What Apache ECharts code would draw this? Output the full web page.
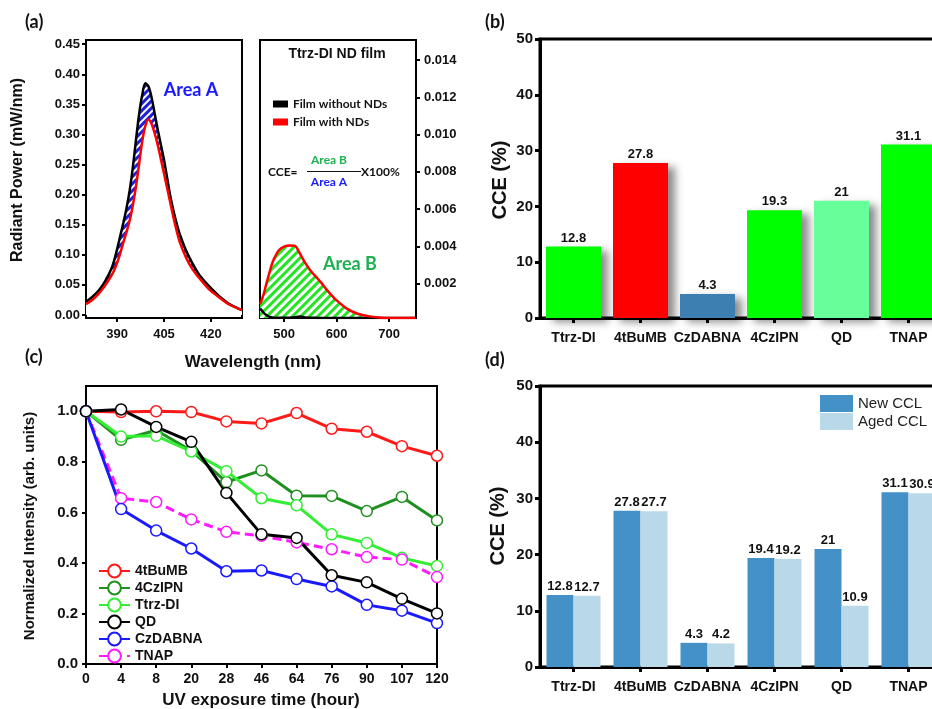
<!DOCTYPE html>
<html>
<head>
<meta charset="utf-8">
<script src="https://cdn.jsdelivr.net/npm/echarts@6/dist/echarts.min.js"></script>
<style>
html,body{margin:0;padding:0;background:#fff;}
#chart{width:932px;height:709px;}
</style>
</head>
<body>
<div id="chart"></div>
<script>
// ---------- Panel (a) left: excitation spectra ----------
const waveA = [380,382,384,386,388,389,390,391,392,393,394,395,396,397,398,399,400,401,402,403,404,405,406,407,408,409,410,412,414,416,418,420,423,426,430];
const blueNoNDs = [0.022,0.030,0.040,0.055,0.075,0.090,0.110,0.132,0.154,0.178,0.207,0.245,0.290,0.333,0.365,0.385,0.380,0.362,0.335,0.308,0.283,0.258,0.228,0.198,0.174,0.153,0.135,0.108,0.087,0.069,0.056,0.045,0.030,0.018,0.008];
const blueWithNDs = [0.018,0.025,0.035,0.048,0.064,0.074,0.087,0.103,0.121,0.138,0.157,0.182,0.213,0.250,0.288,0.314,0.325,0.318,0.302,0.282,0.259,0.235,0.211,0.187,0.163,0.141,0.122,0.096,0.077,0.063,0.051,0.040,0.028,0.017,0.008];
// ---------- Panel (a) right: emission spectra ----------
const waveB = [454,458,462,466,470,475,480,490,500,510,520,530,540,550,560,570,580,590,600,620,640,660,680,700,750];
const greenNoNDs = [0.00068,0.00055,0.00042,0.00033,0.00026,0.00021,0.00019,0.00018,0.00018,0.00019,0.00021,0.00025,0.00020,0.00018,0.00018,0.00017,0.00017,0.00017,0.00017,0.00017,0.00017,0.00017,0.00017,0.00017,0.00017];
const greenWithNDs = [0.00090,0.00120,0.00155,0.00200,0.00240,0.00290,0.00330,0.00380,0.00400,0.00405,0.00404,0.00362,0.00312,0.00272,0.00240,0.00208,0.00172,0.00140,0.00111,0.00066,0.00040,0.00027,0.00020,0.00017,0.00017];
const tickA_x = [390,405,420];
const tickA_y = [0,0.05,0.10,0.15,0.20,0.25,0.30,0.35,0.40,0.45];
const tickB_x = [500,600,700];
const tickB_y = [0.002,0.004,0.006,0.008,0.010,0.012,0.014];
// ---------- Panel (b) ----------
const materials = ['Ttrz-DI','4tBuMB','CzDABNA','4CzIPN','QD','TNAP'];
const cceValues = [12.8,27.8,4.3,19.3,21,31.1];
const cceColors = ['#00ff00','#ff0000','#3d7fb0','#00ff00','#66ff99','#00ff00'];
// ---------- Panel (c) ----------
const hours = ['0','4','8','20','28','46','64','76','90','107','120'];
const s4tBuMB = [1.0,0.997,1.0,0.997,0.96,0.952,0.993,0.931,0.919,0.862,0.824];
const s4CzIPN = [1.0,0.887,0.925,0.844,0.72,0.766,0.666,0.665,0.605,0.661,0.568];
const sTtrzDI = [1.0,0.90,0.903,0.841,0.763,0.656,0.628,0.513,0.479,0.42,0.388];
const sQD = [1.0,1.007,0.938,0.879,0.677,0.513,0.499,0.351,0.323,0.258,0.20];
const sCzDABNA = [1.0,0.613,0.528,0.457,0.367,0.37,0.336,0.307,0.234,0.211,0.162];
const sTNAP = [1.0,0.656,0.641,0.572,0.523,0.507,0.481,0.454,0.423,0.413,0.344];
const tickC_y = [0,0.2,0.4,0.6,0.8,1.0];
// ---------- Panel (d) ----------
const newCCL = [12.8,27.8,4.3,19.4,21,31.1];
const agedCCL = [12.7,27.7,4.2,19.2,10.9,30.9];

const AX = 'Liberation Sans, Arial, sans-serif';
const CAL = 'Lato, Open Sans, sans-serif';

function pairs(xs, ys){ return xs.map((x,i)=>[x, ys[i]]); }

function axLine(w){ return {show:true, onZero:false, lineStyle:{color:'#000', width:w}}; }
function axTick(w,len,custom){ const t = {show:true, inside:false, length:len, lineStyle:{color:'#000', width:w}}; if(custom) t.customValues = custom; return t; }
function axLabel(size,margin,extra){ return Object.assign({color:'#111', fontFamily:AX, fontWeight:'bold', fontSize:size, margin:margin}, extra||{}); }

const decalA = {symbol:'rect', symbolSize:1, color:'#ffffff', dashArrayX:[1,0], dashArrayY:[2,2.5], rotation:-Math.PI/4};
const decalB = {symbol:'rect', symbolSize:1, color:'#ffffff', dashArrayX:[1,0], dashArrayY:[3,2.5], rotation:-Math.PI/4};

const lineSym = (name, data, color, dashed) => ({
  name, type:'line', xAxisIndex:3, yAxisIndex:3, data,
  symbol:'circle', symbolSize:11, showSymbol:true,
  itemStyle:{color:'#ffffff', borderColor:color, borderWidth:1.5},
  lineStyle:{color:color, width:3, type: dashed ? [9,5] : 'solid'},
  color: color
});

const option = {
  animation:false,
  backgroundColor:'#ffffff',
  grid:[
    {left:86, top:40, width:156, height:278, show:true, borderColor:'#000', borderWidth:2, backgroundColor:'transparent'},
    {left:260, top:40, width:156, height:278, show:true, borderColor:'#000', borderWidth:2, backgroundColor:'transparent'},
    {left:540, top:39, width:402, height:279, show:true, borderColor:'#000', borderWidth:3, backgroundColor:'transparent', outerBoundsMode:'none'},
    {left:86, top:386, width:351, height:278, show:true, borderColor:'#000', borderWidth:2, backgroundColor:'transparent'},
    {left:540, top:386, width:402, height:281, show:true, borderColor:'#000', borderWidth:3, backgroundColor:'transparent', outerBoundsMode:'none'}
  ],
  xAxis:[
    {gridIndex:0, type:'value', min:380, max:430, splitLine:{show:false}, axisLine:axLine(2), axisTick:axTick(2,4,tickA_x), axisLabel:axLabel(13,10,{customValues:tickA_x})},
    {gridIndex:1, type:'value', min:454, max:751, splitLine:{show:false}, axisLine:axLine(2), axisTick:axTick(2,4,tickB_x), axisLabel:axLabel(13,10,{customValues:tickB_x})},
    {gridIndex:2, type:'category', data:materials, axisLine:axLine(3), axisTick:Object.assign(axTick(3,5),{alignWithLabel:true}), axisLabel:axLabel(14,13,{interval:0})},
    {gridIndex:3, type:'category', data:hours, boundaryGap:false, axisLine:axLine(2), axisTick:axTick(2,4), axisLabel:axLabel(14,8,{interval:0})},
    {gridIndex:4, type:'category', data:materials, axisLine:axLine(3), axisTick:Object.assign(axTick(3,5),{alignWithLabel:true}), axisLabel:axLabel(14,13,{interval:0})}
  ],
  yAxis:[
    {gridIndex:0, type:'value', min:-0.005, max:0.457, splitLine:{show:false}, axisLine:axLine(2), axisTick:axTick(2,4,tickA_y), axisLabel:axLabel(13,6,{customValues:tickA_y, formatter:v=>v.toFixed(2)})},
    {gridIndex:1, type:'value', position:'right', min:0.00017, max:0.01507, splitLine:{show:false}, axisLine:axLine(2), axisTick:axTick(2,4,tickB_y), axisLabel:axLabel(13,8,{customValues:tickB_y, formatter:v=>v.toFixed(3)})},
    {gridIndex:2, type:'value', min:0, max:50, interval:10, splitLine:{show:false}, axisLine:axLine(3), axisTick:axTick(3,5), axisLabel:axLabel(15,7)},
    {gridIndex:3, type:'value', min:0, max:1.1, splitLine:{show:false}, axisLine:axLine(2), axisTick:axTick(2,4,tickC_y), axisLabel:axLabel(15,8,{customValues:tickC_y, formatter:v=>v.toFixed(1)})},
    {gridIndex:4, type:'value', min:0, max:50, interval:10, splitLine:{show:false}, axisLine:axLine(3), axisTick:axTick(3,5), axisLabel:axLabel(15,7)}
  ],
  legend:[
    {data:['Film without NDs','Film with NDs'], orient:'vertical', left:268, top:92, icon:'rect', itemWidth:15, itemHeight:7, itemGap:4,
     textStyle:{fontFamily:CAL, fontWeight:'bold', fontSize:12, color:'#111', lineHeight:14}},
    {data:['4tBuMB','4CzIPN','Ttrz-DI','QD','CzDABNA','TNAP'], orient:'vertical', left:93, top:558, itemWidth:31, itemHeight:16, itemGap:1,
     textStyle:{fontFamily:AX, fontWeight:'bold', fontSize:14, color:'#111', lineHeight:16}},
    {data:['New CCL','Aged CCL'], orient:'vertical', left:815, top:390, icon:'rect', itemWidth:33, itemHeight:17, itemGap:1,
     textStyle:{fontFamily:AX, fontSize:15, color:'#222', lineHeight:17}}
  ],
  series:[
    // (a) left: hatched area between curves
    {name:'_areaA', type:'line', xAxisIndex:0, yAxisIndex:0, data:pairs(waveA, blueNoNDs), showSymbol:false, symbol:'none', smooth:0.3,
     lineStyle:{width:0, decal:decalA}, itemStyle:{color:'#1f1fd8', decal:decalA}, areaStyle:{color:'#1f1fd8', opacity:1}, color:'#1f1fd8', z:1},
    {name:'_coverA', type:'line', xAxisIndex:0, yAxisIndex:0, data:pairs(waveA, blueWithNDs), showSymbol:false, symbol:'none', smooth:0.3,
     lineStyle:{width:0}, areaStyle:{color:'#ffffff', opacity:1}, color:'#ffffff', z:2},
    {name:'Film without NDs', type:'line', xAxisIndex:0, yAxisIndex:0, data:pairs(waveA, blueNoNDs), showSymbol:false, symbol:'none', smooth:0.3,
     lineStyle:{width:2.5, color:'#000'}, color:'#000', z:3},
    {name:'Film with NDs', type:'line', xAxisIndex:0, yAxisIndex:0, data:pairs(waveA, blueWithNDs), showSymbol:false, symbol:'none', smooth:0.3,
     lineStyle:{width:2.5, color:'#ff0000'}, color:'#ff0000', z:4},
    // (a) right
    {name:'_areaB', type:'line', xAxisIndex:1, yAxisIndex:1, data:pairs(waveB, greenWithNDs), showSymbol:false, symbol:'none', smooth:0.3,
     lineStyle:{width:0, decal:decalB}, itemStyle:{color:'#22e622', decal:decalB}, areaStyle:{color:'#22e622', opacity:1}, color:'#22e622', z:1},
    {name:'Film without NDs', type:'line', xAxisIndex:1, yAxisIndex:1, data:pairs(waveB, greenNoNDs), showSymbol:false, symbol:'none', smooth:0.3,
     lineStyle:{width:2.5, color:'#000'}, color:'#000', z:3},
    {name:'Film with NDs', type:'line', xAxisIndex:1, yAxisIndex:1, data:pairs(waveB, greenWithNDs), showSymbol:false, symbol:'none', smooth:0.3,
     lineStyle:{width:2.5, color:'#ff0000'}, color:'#ff0000', z:4},
    // (b)
    {name:'CCE', type:'bar', xAxisIndex:2, yAxisIndex:2, barWidth:55,
     data:cceValues.map((v,i)=>({value:v, itemStyle:{color:cceColors[i]}})),
     itemStyle:{shadowColor:'rgba(0,0,0,0.45)', shadowBlur:8, shadowOffsetX:7, shadowOffsetY:4},
     label:{show:true, position:'top', distance:2, fontFamily:AX, fontWeight:'bold', fontSize:13, color:'#111'}},
    // (c)
    lineSym('4tBuMB', s4tBuMB, '#ff1a1a'),
    lineSym('4CzIPN', s4CzIPN, '#1f8f1f'),
    lineSym('Ttrz-DI', sTtrzDI, '#33ee33'),
    lineSym('TNAP', sTNAP, '#ff1aff', true),
    lineSym('CzDABNA', sCzDABNA, '#1a1aff'),
    lineSym('QD', sQD, '#000000'),
    // (d)
    {name:'New CCL', type:'bar', xAxisIndex:4, yAxisIndex:4, barWidth:27, barGap:'0%', data:newCCL, color:'#4391c6',
     label:{show:true, position:'top', distance:2, fontFamily:AX, fontWeight:'bold', fontSize:13, color:'#111'}},
    {name:'Aged CCL', type:'bar', xAxisIndex:4, yAxisIndex:4, barWidth:27, barGap:'0%', data:agedCCL, color:'#b9d8e8',
     label:{show:true, position:'top', distance:2, fontFamily:AX, fontWeight:'bold', fontSize:13, color:'#111'}}
  ],
  graphic:[
    {type:'text', left:25, top:13, style:{text:'(a)', font:'bold 18px '+CAL, fill:'#111'}},
    {type:'text', left:485, top:13, style:{text:'(b)', font:'bold 18px '+CAL, fill:'#111'}},
    {type:'text', left:25, top:348, style:{text:'(c)', font:'bold 18px '+CAL, fill:'#111'}},
    {type:'text', left:485, top:351, style:{text:'(d)', font:'bold 18px '+CAL, fill:'#111'}},
    {type:'text', x:18, y:170, rotation:Math.PI/2, style:{text:'Radiant Power (mW/nm)', font:'bold 16px '+AX, fill:'#111', align:'center', verticalAlign:'middle'}},
    {type:'text', x:253, y:362, style:{text:'Wavelength (nm)', font:'bold 17px '+AX, fill:'#111', align:'center', verticalAlign:'middle'}},
    {type:'text', x:191, y:90, style:{text:'Area A', font:'bold 18px '+CAL, fill:'#1a1aff', align:'center', verticalAlign:'middle'}},
    {type:'text', x:350, y:264, style:{text:'Area B', font:'bold 18px '+CAL, fill:'#1db14f', align:'center', verticalAlign:'middle'}},
    {type:'text', x:337, y:54, style:{text:'Ttrz-DI ND film', font:'bold 14px '+AX, fill:'#111', align:'center', verticalAlign:'middle'}},
    {type:'text', x:268, y:172, style:{text:'CCE=', font:'bold 12px '+CAL, fill:'#111', align:'left', verticalAlign:'middle'}},
    {type:'text', x:329, y:160, style:{text:'Area B', font:'bold 12px '+CAL, fill:'#1db14f', align:'center', verticalAlign:'middle'}},
    {type:'text', x:329, y:182, style:{text:'Area A', font:'bold 12px '+CAL, fill:'#1a1aff', align:'center', verticalAlign:'middle'}},
    {type:'line', shape:{x1:307, y1:171.5, x2:361, y2:171.5}, style:{stroke:'#111', lineWidth:1}},
    {type:'text', x:361, y:172, style:{text:'X100%', font:'bold 12px '+CAL, fill:'#111', align:'left', verticalAlign:'middle'}},
    {type:'text', x:500, y:180, rotation:Math.PI/2, style:{text:'CCE (%)', font:'bold 20px '+AX, fill:'#111', align:'center', verticalAlign:'middle'}},
    {type:'text', x:498, y:526, rotation:Math.PI/2, style:{text:'CCE (%)', font:'bold 20px '+AX, fill:'#111', align:'center', verticalAlign:'middle'}},
    {type:'text', x:30, y:526, rotation:Math.PI/2, style:{text:'Normalized Intensity (arb. units)', font:'bold 15px '+AX, fill:'#111', align:'center', verticalAlign:'middle'}},
    {type:'text', x:261, y:700, style:{text:'UV exposure time (hour)', font:'bold 17px '+AX, fill:'#111', align:'center', verticalAlign:'middle'}}
  ]
};
const chart = echarts.init(document.getElementById('chart'), null, {renderer:'canvas'});
chart.setOption(option);
</script>
</body>
</html>
